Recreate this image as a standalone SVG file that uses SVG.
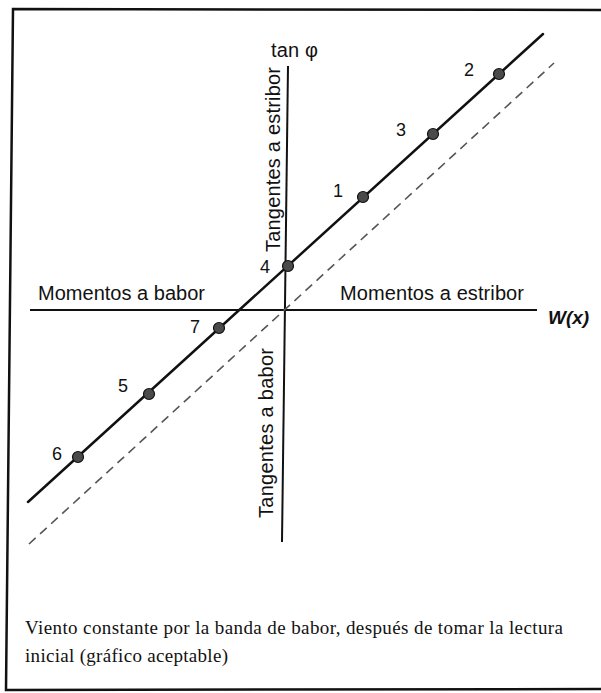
<svg xmlns="http://www.w3.org/2000/svg" width="601" height="693" viewBox="0 0 601 693">
<style>
.lbl{font-family:"Liberation Sans",Arial,sans-serif;font-size:20px;fill:#111}
.num{font-family:"Liberation Sans",Arial,sans-serif;font-size:18px;fill:#111}
.cap{font-family:"Liberation Serif","Times New Roman",serif;font-size:19px;fill:#111}
.dot{fill:#4a4a4a;stroke:#111;stroke-width:1.2}
.axis{stroke:#111;stroke-width:2;fill:none}
</style>
<rect width="601" height="693" fill="#fff"/>
<path id="frame" d="M601,10 L13,9 L6,690 L601,689" fill="none" stroke="#111" stroke-width="2.5"/>
<g id="connectors">
<line class="axis" x1="30" y1="310" x2="537" y2="310"/>
<line class="axis" x1="288" y1="66" x2="282" y2="542"/>
<line x1="28" y1="502" x2="543" y2="34" stroke="#111" stroke-width="2.5" stroke-linecap="round"/>
<line x1="29" y1="544" x2="554" y2="63" stroke="#555" stroke-width="1.6" stroke-dasharray="9,6"/>
</g>
<g id="axis-labels">
<text class="lbl" x="271" y="57" textLength="47">tan φ</text>
<text class="lbl" transform="translate(280,252) rotate(-90)" textLength="185">Tangentes a estribor</text>
<text class="lbl" transform="translate(273,518) rotate(-90)" textLength="170">Tangentes a babor</text>
<text class="lbl" x="38" y="300" textLength="167">Momentos a babor</text>
<text class="lbl" x="340" y="300" textLength="184">Momentos a estribor</text>
<text x="548" y="324" font-family="Liberation Sans,Arial,sans-serif" font-size="19" font-style="italic" font-weight="bold" fill="#111">W(x)</text>
</g>
<g id="p1"><circle class="dot" cx="363" cy="197" r="5.5"/><text class="num" x="333" y="197">1</text></g>
<g id="p2"><circle class="dot" cx="499" cy="74" r="5.5"/><text class="num" x="464" y="76">2</text></g>
<g id="p3"><circle class="dot" cx="433" cy="134" r="5.5"/><text class="num" x="396" y="136">3</text></g>
<g id="p4"><circle class="dot" cx="288" cy="266" r="5.5"/><text class="num" x="260" y="273">4</text></g>
<g id="p5"><circle class="dot" cx="149" cy="394" r="5.5"/><text class="num" x="118" y="392">5</text></g>
<g id="p6"><circle class="dot" cx="78" cy="457" r="5.5"/><text class="num" x="52" y="460">6</text></g>
<g id="p7"><circle class="dot" cx="219" cy="328" r="5.5"/><text class="num" x="190" y="333">7</text></g>
<g id="caption">
<text class="cap" x="25" y="634" textLength="538">Viento constante por la banda de babor, después de tomar la lectura</text>
<text class="cap" x="25" y="662" textLength="203">inicial (gráfico aceptable)</text>
</g>
</svg>
